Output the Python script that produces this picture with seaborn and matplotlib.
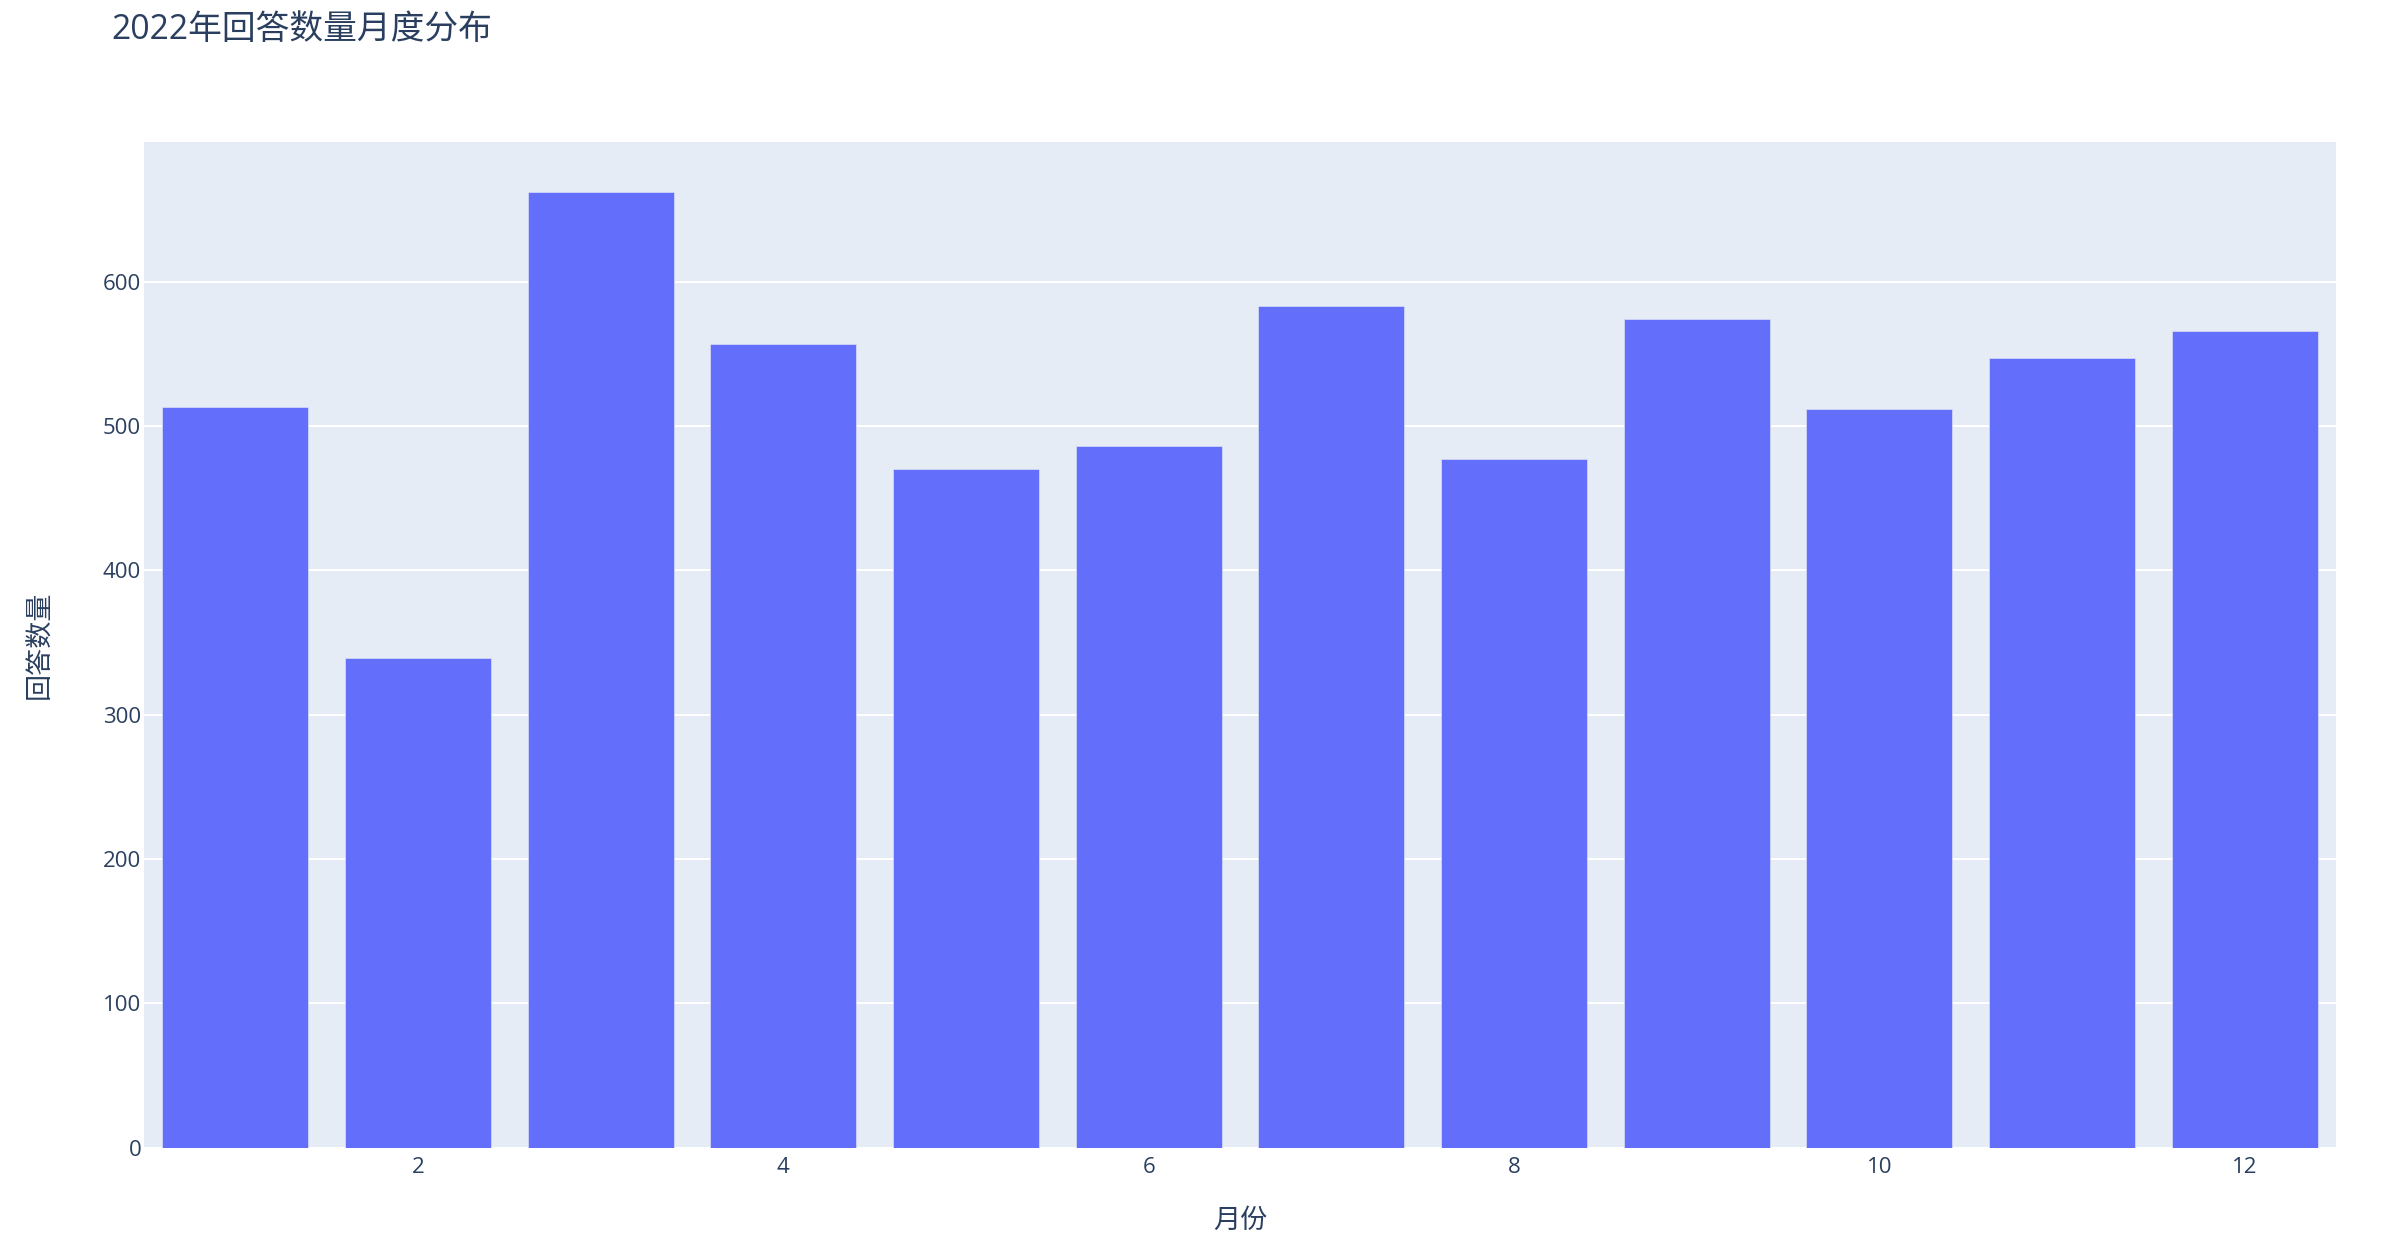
import matplotlib
matplotlib.use("Agg")
import matplotlib.pyplot as plt
import seaborn as sns
import pandas as pd

months = [1, 2, 3, 4, 5, 6, 7, 8, 9, 10, 11, 12]
answers = [513, 339, 662, 557, 470, 486, 583, 477, 574, 512, 547, 566]
x_ticks = [2, 4, 6, 8, 10, 12]
y_ticks = [0, 100, 200, 300, 400, 500, 600]

title = "2022年回答数量月度分布"
x_label = "月份"
y_label = "回答数量"

sns.set_theme(style="darkgrid")
plt.rcParams['font.family'] = ['Open Sans', 'Noto Sans CJK SC', 'DejaVu Sans']

TEXT = "#2a3f5f"
BG = "#E5ECF6"
BAR = "#636efa"

df = pd.DataFrame({"month": months, "answers": answers})

W, H = 2384, 1250
L, R, T, B = 144, 2336, 141.5, 1147.5

fig = plt.figure(figsize=(W / 100, H / 100), dpi=100)
ax = fig.add_axes([L / W, 1 - B / H, (R - L) / W, (B - T) / H])
ax.set_facecolor(BG)

sns.barplot(data=df, x="month", y="answers", native_scale=True, width=0.8,
            color=BAR, saturation=1, ax=ax, zorder=3, edgecolor=BG, linewidth=0.4)

ax.set_xlim(0.5, 12.5)
ax.set_ylim(0, 697)
ax.set_xticks(x_ticks)
ax.set_xticklabels([str(t) for t in x_ticks])
ax.set_yticks(y_ticks)
ax.set_yticklabels([str(t) for t in y_ticks])
ax.grid(axis="y", color="white", linewidth=1.5, zorder=0)
ax.grid(axis="x", visible=False)
for s in ax.spines.values():
    s.set_visible(False)
ax.tick_params(axis="both", length=0, labelsize=16, colors=TEXT)
ax.tick_params(axis="y", pad=2)
ax.tick_params(axis="x", pad=7)

ax.set_xlabel(x_label, fontsize=19.5, color=TEXT)
ax.set_ylabel(y_label, fontsize=19.5, color=TEXT)
ax.xaxis.label.set_va("center")
ax.yaxis.label.set_va("center")
ax.xaxis.set_label_coords(0.5, -(1221 - B) / (B - T))
ax.yaxis.set_label_coords((40.5 - L) / (R - L), 0.5)

fig.text(111 / W, 1 - 30 / H, title, fontsize=24.3, color=TEXT, ha="left", va="center")

fig.savefig("out.png", dpi=100, facecolor="white")
